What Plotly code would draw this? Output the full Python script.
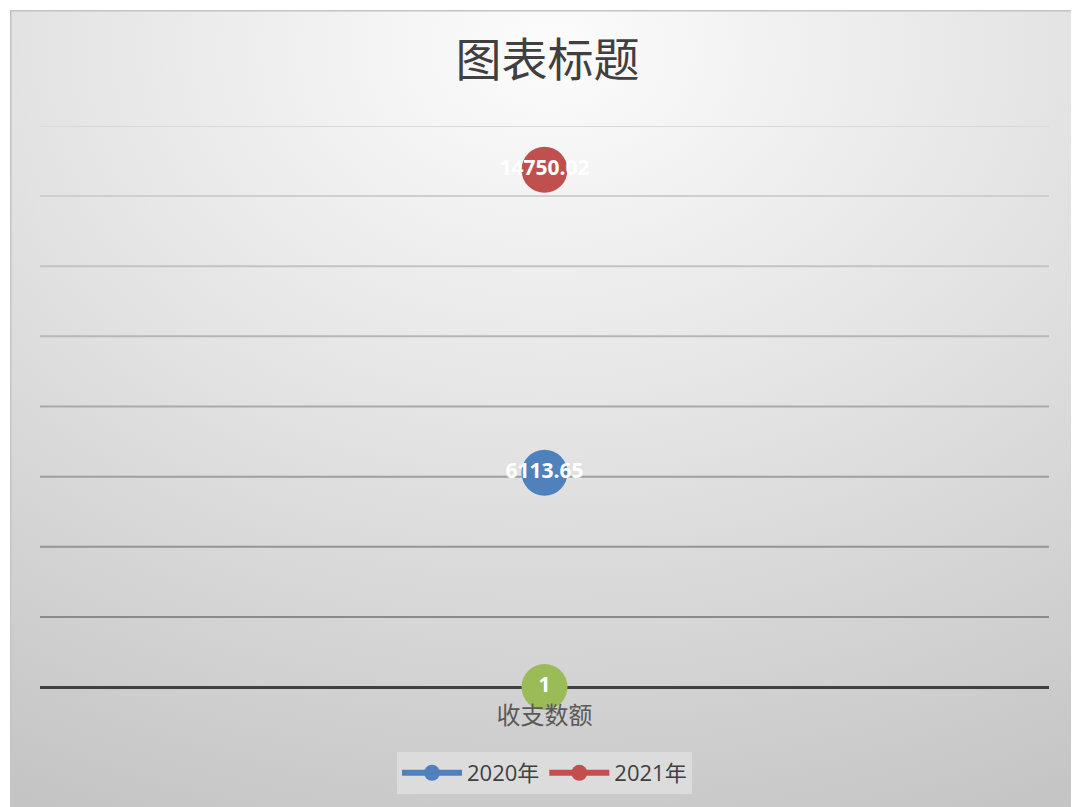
import base64
import plotly.graph_objects as go

# ---- data ----
categories = ["收支数额"]
series_names = ["2020年", "2021年", ""]
values_2020 = [6113.65]
values_2021 = [14750.02]
values_extra = [1]
label_2020 = ["6113.65"]
label_2021 = ["14750.02"]
label_extra = ["1"]
grid_ticks = [2000, 4000, 6000, 8000, 10000, 12000, 14000, 16000]
grid_colors = ["#8a8a8a", "#959595", "#9f9f9f", "#aaaaaa", "#b6b6b6", "#c3c3c3", "#cfcfcf", "#d9d9d9"]

W, H = 1079, 807
OFF = 8  # page body offset
L, R, T = 40 - OFF, 30 + OFF, 126 - OFF
B = H - (687 - OFF)
pw, ph = W - L - R, H - T - B

fig = go.Figure()

def add_series(name, vals, labels, color, show):
    fig.add_trace(go.Scatter(
        x=categories, y=vals, name=name, mode="lines+markers+text",
        text=labels, textposition="middle center",
        textfont=dict(family="Open Sans, Liberation Sans, sans-serif", size=21, color="white", weight="bold"),
        marker=dict(size=46, color=color, line=dict(width=0)),
        line=dict(color=color, width=6),
        showlegend=show, hoverinfo="skip", cliponaxis=False,
    ))

add_series(series_names[0], values_2020, label_2020, "#4F81BD", True)
add_series(series_names[1], values_2021, label_2021, "#C0504D", True)
add_series(series_names[2], values_extra, label_extra, "#9BBB59", False)

# background gradient as inline SVG
fx0, fy0 = 10 - OFF, 10 - OFF
bw, bh = W - fx0, H - fy0
svg = f'''<svg xmlns="http://www.w3.org/2000/svg" width="{bw}" height="{bh}">
<defs><radialGradient id="g" cx="0.5" cy="0.05" r="1.05" gradientUnits="objectBoundingBox">
<stop offset="0" stop-color="#fcfcfc"/><stop offset="0.45" stop-color="#e4e4e4"/><stop offset="1" stop-color="#c4c4c4"/>
</radialGradient></defs>
<rect x="0" y="0" width="{bw}" height="{bh}" fill="url(#g)" stroke="#c4c4c4" stroke-width="3"/>
</svg>'''
src = "data:image/svg+xml;base64," + base64.b64encode(svg.encode()).decode()
fig.add_layout_image(dict(
    source=src, xref="paper", yref="paper",
    x=(fx0 - L) / pw, y=(H - B - fy0) / ph,
    sizex=bw / pw, sizey=bh / ph,
    sizing="stretch", xanchor="left", yanchor="top", layer="below",
))

for t, c in zip(grid_ticks, grid_colors):
    fig.add_shape(type="line", xref="paper", yref="y", x0=0, x1=1, y0=t, y1=t,
                  line=dict(color=c, width=2), layer="below")

fig.update_layout(
    width=W, height=H,
    margin=dict(l=L, r=R, t=T, b=B),
    paper_bgcolor="white", plot_bgcolor="rgba(0,0,0,0)",
    title=dict(text="图表标题", x=0.5, xanchor="center", y=1 - (60 - OFF) / H, yanchor="middle",
               font=dict(family="Noto Sans CJK SC", size=46, color="#404040")),
    xaxis=dict(showgrid=False, zeroline=False, showline=False, ticks="",
               ticklabelstandoff=12,
               tickfont=dict(family="Noto Sans CJK SC", size=24, color="#595959")),
    yaxis=dict(range=[0, 16000], showgrid=False, showticklabels=False,
               zeroline=True, zerolinecolor="#404040", zerolinewidth=3, showline=False),
    legend=dict(orientation="h", x=0.5, xanchor="center", y=-65 / ph, yanchor="top",
                bgcolor="#dcdcdc", font=dict(family="Open Sans, Noto Sans CJK SC", size=22, color="#404040"),
                itemwidth=60),
    showlegend=True,
)

fig.write_html("out.html")
